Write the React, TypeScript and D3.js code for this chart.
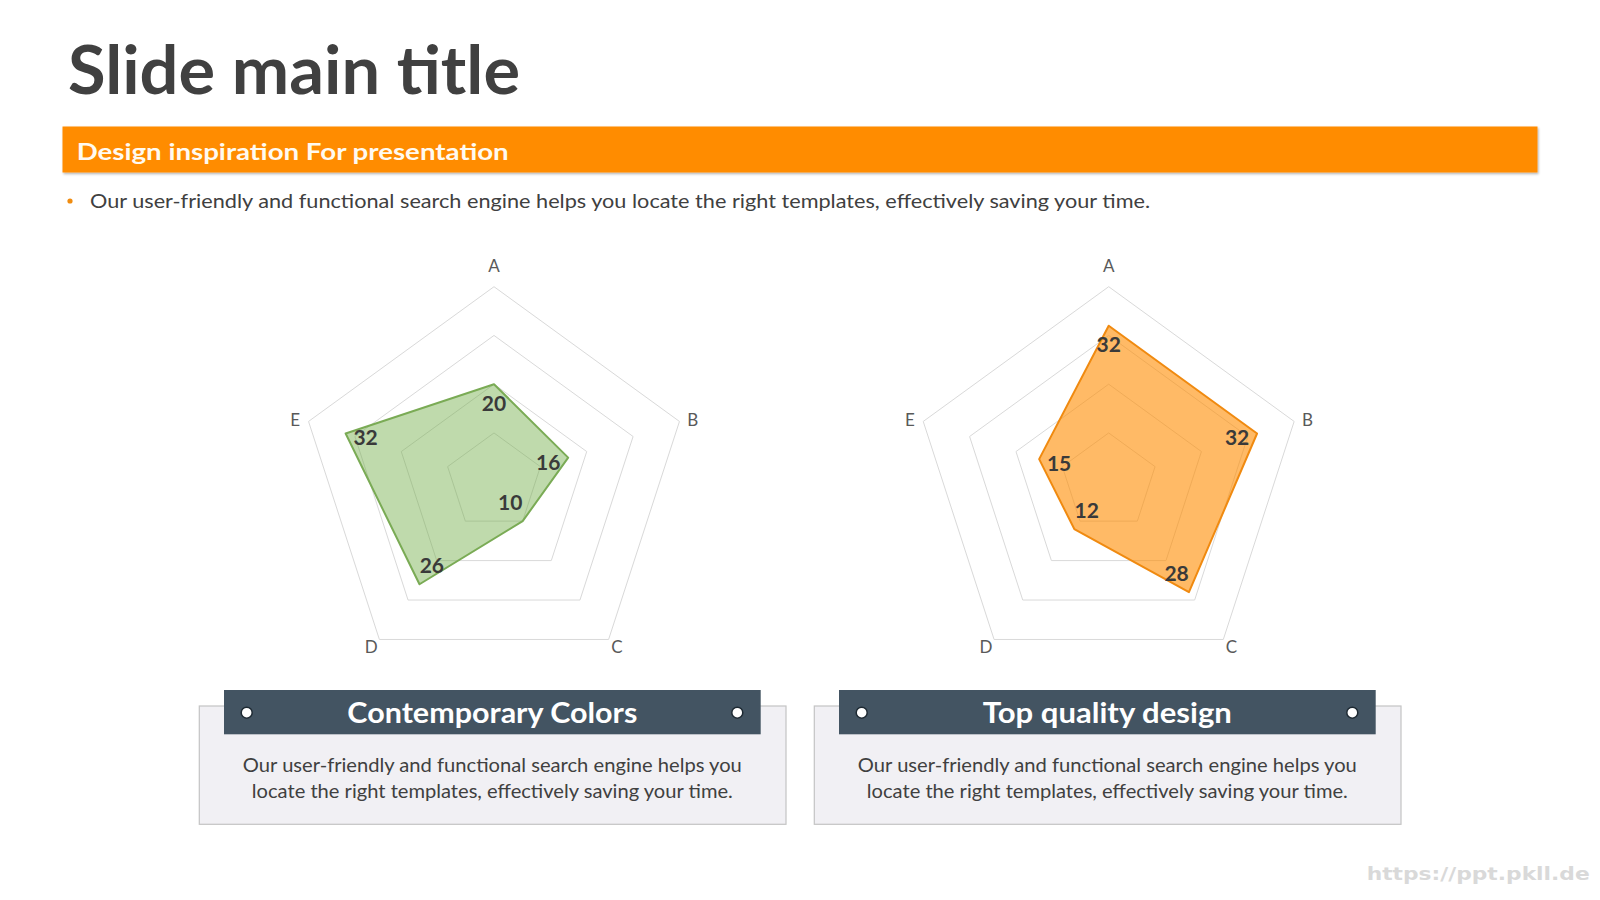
import React from 'react';
import * as d3 from 'd3';

const W = 1600;
const H = 900;

const categories = ['A', 'B', 'C', 'D', 'E'];
const ringTicks = [10, 20, 30, 40];
const leftValues = [20, 16, 10, 26, 32];
const rightValues = [32, 32, 28, 12, 15];

const titleText = 'Slide main title';
const bannerText = 'Design inspiration For presentation';
const bulletText = 'Our user-friendly and functional search engine helps you locate the right templates, effectively saving your time.';
const cardTitles = ['Contemporary Colors', 'Top quality design'];
const cardTitleWidths = [290, 249];
const cardBody = [
  'Our user-friendly and functional search engine helps you',
  'locate the right templates, effectively saving your time.',
];
const cardBodyWidths = [499, 481];
const watermark = 'https://ppt.pkll.de';

const FONT = 'Lato, "Open Sans", sans-serif';

const rScale = d3.scaleLinear().domain([0, 40]).range([0, 195]);
const aScale = d3.scaleLinear().domain([0, categories.length]).range([0, 2 * Math.PI]);

function Radar({ cx, cy, values, fill, fillOpacity, stroke }: any) {
  const ring = (t: number) =>
    d3
      .lineRadial<string>()
      .angle((_d, i) => aScale(i))
      .radius(rScale(t))
      .curve(d3.curveLinearClosed)(categories) as string;
  const dataPath = d3
    .lineRadial<number>()
    .angle((_d, i) => aScale(i))
    .radius((d) => rScale(d))
    .curve(d3.curveLinearClosed)(values) as string;
  const maxR = rScale(40);
  return (
    <g>
      <g transform={`translate(${cx},${cy})`}>
        {ringTicks.map((t) => (
          <path key={t} d={ring(t)} fill="none" stroke="#d9d9d9" strokeWidth={1} />
        ))}
        <path d={dataPath} fill={fill} fillOpacity={fillOpacity} stroke={stroke} strokeWidth={2} strokeLinejoin="round" />
      </g>
      {categories.map((c, i) => {
        const a = aScale(i);
        const dx = Math.sin(a);
        const dy = -Math.cos(a);
        const vx = cx + maxR * dx;
        const vy = cy + maxR * dy;
        const off = dy < -0.5 ? -21 : dy < 0 ? -2 : 7;
        return (
          <text
            key={c}
            x={vx + dx * 14}
            y={vy + off}
            textAnchor="middle"
            dominantBaseline="central"
            fontFamily={FONT}
            fontSize={17}
            fill="#595959"
          >
            {c}
          </text>
        );
      })}
      {values.map((v: number, i: number) => {
        const a = aScale(i);
        const dx = Math.sin(a);
        const dy = -Math.cos(a);
        const px = cx + rScale(v) * dx;
        const py = cy + rScale(v) * dy;
        return (
          <text
            key={i}
            x={px - dx * 21}
            y={py - dy * 21 - 3}
            textAnchor="middle"
            dominantBaseline="central"
            fontFamily={FONT}
            fontWeight="bold"
            fontSize={21}
            fill="#3a3a3a"
          >
            {v}
          </text>
        );
      })}
    </g>
  );
}

function Card({ offset, idx }: any) {
  const boxX = 199.3 + offset;
  const boxW = 586.7;
  const hdrX = 224 + offset;
  const hdrW = 536.7;
  const cx = hdrX + hdrW / 2;
  return (
    <g>
      <rect x={boxX} y={706} width={boxW} height={118.3} fill="#f1f0f4" stroke="#c4c4c4" strokeWidth={1.2} />
      <rect x={hdrX} y={690} width={hdrW} height={44.3} fill="#435462" />
      <circle cx={hdrX + 22.7} cy={712.7} r={5.5} fill="#ffffff" stroke="#1e2a33" strokeWidth={1.5} />
      <circle cx={hdrX + hdrW - 23.4} cy={712.7} r={5.5} fill="#ffffff" stroke="#1e2a33" strokeWidth={1.5} />
      <text
        x={cx - cardTitleWidths[idx] / 2}
        y={723.3}
        fontFamily={FONT}
        fontWeight="bold"
        fontSize={29}
        fill="#ffffff"
        textLength={cardTitleWidths[idx]}
        lengthAdjust="spacingAndGlyphs"
      >
        {cardTitles[idx]}
      </text>
      {cardBody.map((line, i) => (
        <text
          key={i}
          x={cx - cardBodyWidths[i] / 2}
          y={771.7 + i * 26}
          fontFamily={FONT}
          fontSize={20}
          fill="#404040"
          textLength={cardBodyWidths[i]}
          lengthAdjust="spacingAndGlyphs"
        >
          {line}
        </text>
      ))}
    </g>
  );
}

export default function App() {
  return (
    <svg
      width={W}
      height={H}
      viewBox={`0 0 ${W} ${H}`}
      style={{ position: 'absolute', left: 0, top: 0, background: '#ffffff' }}
    >
      <defs>
        <filter id="barShadow" x="-5%" y="-30%" width="110%" height="170%">
          <feDropShadow dx={1} dy={1.5} stdDeviation={1.2} floodColor="#000" floodOpacity={0.3} />
        </filter>
      </defs>
      <rect x={0} y={0} width={W} height={H} fill="#ffffff" />
      <text
        x={68}
        y={94.3}
        fontFamily={FONT}
        fontWeight="bold"
        fontSize={67}
        fill="#404040"
        textLength={452}
        lengthAdjust="spacingAndGlyphs"
      >
        {titleText}
      </text>
      <rect x={62.5} y={126.5} width={1475} height={46} fill="#ff8c00" filter="url(#barShadow)" />
      <text
        x={76.7}
        y={160}
        fontFamily={FONT}
        fontWeight="bold"
        fontSize={23}
        fill="#fffaf0"
        textLength={432}
        lengthAdjust="spacingAndGlyphs"
      >
        {bannerText}
      </text>
      <circle cx={70} cy={201} r={2.6} fill="#f08c10" />
      <text
        x={90}
        y={208.3}
        fontFamily={FONT}
        fontSize={20}
        fill="#404040"
        textLength={1060}
        lengthAdjust="spacingAndGlyphs"
      >
        {bulletText}
      </text>

      <Radar cx={494} cy={481.7} values={leftValues} fill="#70ad47" fillOpacity={0.45} stroke="#7aab55" />
      <Radar cx={1108.7} cy={481.7} values={rightValues} fill="#ff8c00" fillOpacity={0.6} stroke="#f08a10" />

      <Card offset={0} idx={0} />
      <Card offset={615} idx={1} />

      <text
        x={1366.7}
        y={880}
        fontFamily='"DejaVu Sans", sans-serif'
        fontWeight="bold"
        fontSize={18}
        fill="#d9d9d9"
        textLength={223}
        lengthAdjust="spacingAndGlyphs"
      >
        {watermark}
      </text>
    </svg>
  );
}
